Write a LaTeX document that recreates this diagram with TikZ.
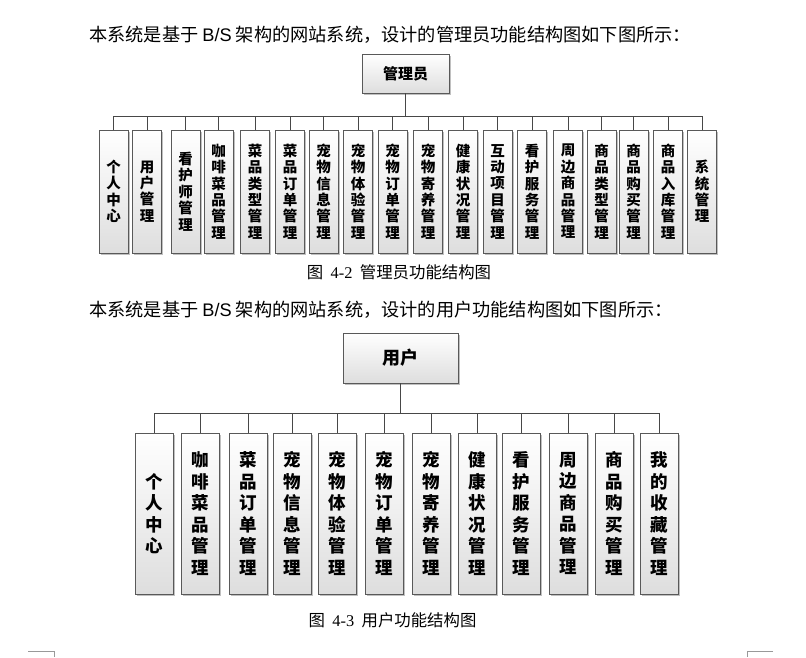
\documentclass[tikz,border=0pt]{standalone}
\usepackage{fontspec}
\setmainfont{Noto Sans CJK SC}
\newfontfamily\arialfont{Liberation Sans}
\newfontfamily\numfont{Liberation Serif}
\usetikzlibrary{shadows}

\tikzset{
  box/.style={draw=black!65, line width=0.8pt, top color=white, bottom color=black!13,
    drop shadow={shadow xshift=1.8pt, shadow yshift=-1.8pt, fill=black!45, opacity=0.55},
    inner sep=0pt, align=center},
  tree/.style={draw=black!72, line width=1pt},
  body/.style={anchor=west, inner sep=0pt, font=\fontsize{18.2}{20}\selectfont},
  caption/.style={inner sep=0pt, font=\fontsize{16.4}{18}\selectfont},
}

\begin{document}
\begin{tikzpicture}[x=1pt, y=-1pt]
\useasboundingbox (0,0) rectangle (806,657);

\node[body] (intro1) at (89,35) {本系统是基于 {\arialfont B/S} 架构的网站系统，设计的管理员功能结构图如下图所示：};

% Admin tree (top)
\node[box, minimum width=87pt, minimum height=39pt, font=\bfseries\fontsize{15}{17}\selectfont] (admin) at (405.5,73.5) {管理员};
\coordinate (abus) at (405.5,116);
\foreach \i/\x/\txt in {1/113.5/{个\\人\\中\\心}, 2/147/{用\\户\\管\\理}, 3/185.5/{看\\护\\师\\管\\理},
    4/218.5/{咖\\啡\\菜\\品\\管\\理}, 5/255/{菜\\品\\类\\型\\管\\理}, 6/290/{菜\\品\\订\\单\\管\\理},
    7/323.5/{宠\\物\\信\\息\\管\\理}, 8/358/{宠\\物\\体\\验\\管\\理}, 9/392.5/{宠\\物\\订\\单\\管\\理},
    10/428/{宠\\物\\寄\\养\\管\\理}, 11/463/{健\\康\\状\\况\\管\\理}, 12/497.5/{互\\动\\项\\目\\管\\理},
    13/532/{看\\护\\服\\务\\管\\理}, 14/568/{周\\边\\商\\品\\管\\理}, 15/601.5/{商\\品\\类\\型\\管\\理},
    16/633.5/{商\\品\\购\\买\\管\\理}, 17/668/{商\\品\\入\\库\\管\\理}, 18/702/{系\\统\\管\\理}} {
  \node[box, minimum width=29pt, minimum height=123pt, font=\bfseries\fontsize{14.5}{16.4}\selectfont] (a\i) at (\x,191.5) {\txt};
  \draw[tree] (admin.south) -- (admin.south |- abus) -| (a\i.north);
}
\node[caption] (cap1) at (399,272) {图\hspace{0.45em}{\numfont 4-2}\hspace{0.45em}管理员功能结构图};

\node[body] (intro2) at (89,310) {本系统是基于 {\arialfont B/S} 架构的网站系统，设计的用户功能结构图如下图所示：};

% User tree (bottom)
\node[box, minimum width=115pt, minimum height=50pt, font=\bfseries\fontsize{18}{20}\selectfont] (user) at (400.5,358) {用户};
\coordinate (ubus) at (400.5,413);
\foreach \i/\x/\txt in {1/154/{个\\人\\中\\心}, 2/200.5/{咖\\啡\\菜\\品\\管\\理}, 3/248/{菜\\品\\订\\单\\管\\理},
    4/292.5/{宠\\物\\信\\息\\管\\理}, 5/337.5/{宠\\物\\体\\验\\管\\理}, 6/384/{宠\\物\\订\\单\\管\\理},
    7/431/{宠\\物\\寄\\养\\管\\理}, 8/477.5/{健\\康\\状\\况\\管\\理}, 9/521/{看\\护\\服\\务\\管\\理},
    10/568/{周\\边\\商\\品\\管\\理}, 11/614/{商\\品\\购\\买\\管\\理}, 12/659/{我\\的\\收\\藏\\管\\理}} {
  \node[box, minimum width=38pt, minimum height=161pt, font=\bfseries\fontsize{17.5}{21.5}\selectfont] (u\i) at (\x,513.5) {\txt};
  \draw[tree] (user.south) -- (user.south |- ubus) -| (u\i.north);
}
\node[caption] (cap2) at (392.5,620) {图\hspace{0.45em}{\numfont 4-3}\hspace{0.45em}用户功能结构图};

% page corner marks
\draw[black!40] (28,651) -- (54,651) -- (54,657);
\draw[black!40] (773,651) -- (747,651) -- (747,657);
\end{tikzpicture}
\end{document}
